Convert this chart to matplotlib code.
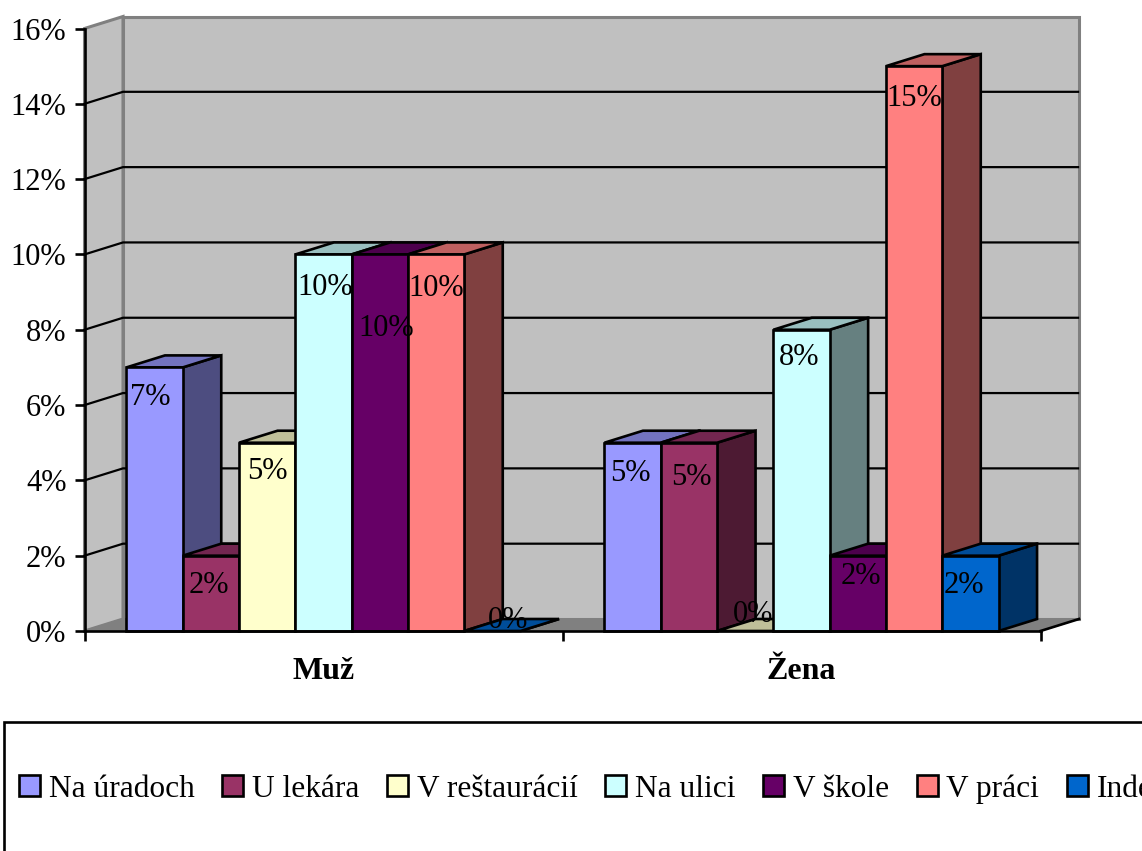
#!/usr/bin/env python3
import matplotlib
matplotlib.use('Agg')
import matplotlib.pyplot as plt
from matplotlib.patches import Polygon, Rectangle
from matplotlib.transforms import Affine2D

# data
groups = ['Muž', 'Žena']
series = ['Na úradoch', 'U lekára', 'V reštaurácií', 'Na ulici', 'V škole', 'V práci', 'Inde']
muz = [7, 2, 5, 10, 10, 10, 0]
zena = [5, 5, 0, 8, 2, 15, 2]
yticks = [0, 2, 4, 6, 8, 10, 12, 14, 16]

# colours of the faces
front = ['#9999FF', '#993366', '#FFFFCC', '#CCFFFF', '#660066', '#FF8080', '#0066CC']
top = ['#7373BF', '#732650', '#BFBF99', '#99BFBF', '#4D004D', '#BF6060', '#004D99']
side = ['#4D4D80', '#4D1A33', '#808066', '#668080', '#330033', '#804040', '#003366']

# hand placed data labels: px from bar centre, px below bar top
muz_nudge = [(-4, 30), (-2, 30), (0, 29), (2, 33), (6, 74), (0, 34), (16, -11)]
zena_nudge = [(-2, 31), (2, 35), (8, -16), (-2, 28), (3, 21), (0, 32), (-7, 30)]

W, H = 1142, 851
X0, X1, Y_TOP, Y_BOT = 84.5, 1040.5, 28.5, 631.0
LW = 1.9
GRID_LW = 1.6
FS = 22
LEG_FS = 22.6

plt.rcParams['font.family'] = ['Liberation Serif', 'DejaVu Serif']
plt.rcParams['font.size'] = FS

fig = plt.figure(figsize=(W / 100, H / 100), dpi=100)
ax = fig.add_axes([X0 / W, 1 - Y_BOT / H, (X1 - X0) / W, (Y_BOT - Y_TOP) / H])
ax.set_xlim(0, 2)
ax.set_ylim(0, 16)

px_x = 2 / (X1 - X0)
px_y = 16 / (Y_BOT - Y_TOP)
dx = 38.5 * px_x
dy = 12 * px_y
bar_w = 56.3 * px_x
n = len(series)
gap = (1 - n * bar_w) / 2


def face(pts, color, edge='black', lw=LW, z=2):
    ax.add_patch(Polygon(pts, closed=True, facecolor=color, edgecolor=edge, linewidth=lw,
                         joinstyle='miter', clip_on=False, zorder=z))


# walls and floor
face([(0, 0), (dx, dy), (dx, 16 + dy), (0, 16)], '#C0C0C0', '#808080', 2.2, 1)
face([(dx, dy), (2 + dx, dy), (2 + dx, 16 + dy), (dx, 16 + dy)], '#C0C0C0', '#808080', 2.2, 1)
face([(0, 0), (2, 0), (2 + dx, dy), (dx, dy)], '#808080', '#808080', 1.0, 1)
ax.plot([2, 2 + dx], [0, dy], color='black', lw=LW, clip_on=False, zorder=1.3)

# gridlines, on the left wall and on the back wall
for t in yticks[1:-1]:
    ax.plot([0, dx, 2 + dx - 0.002], [t, t + dy, t + dy], color='black', lw=GRID_LW, clip_on=False,
            zorder=1.2, solid_joinstyle='miter')

# bars, left to right so that each one covers the side of the one before
for g, values in enumerate([muz, zena]):
    for i, v in enumerate(values):
        x = g + gap + i * bar_w
        face([(x + bar_w, 0), (x + bar_w + dx, dy), (x + bar_w + dx, v + dy), (x + bar_w, v)], side[i])
        face([(x, v), (x + bar_w, v), (x + bar_w + dx, v + dy), (x + dx, v + dy)], top[i])
        if v > 0:
            face([(x, 0), (x + bar_w, 0), (x + bar_w, v), (x, v)], front[i])

# data labels
for g, (values, nudges) in enumerate([(muz, muz_nudge), (zena, zena_nudge)]):
    for i, v in enumerate(values):
        x = g + gap + (i + 0.5) * bar_w + nudges[i][0] * px_x
        ax.text(x, v - nudges[i][1] * px_y, '%d%%' % v, ha='center', va='center',
                color='black', zorder=6, clip_on=False)

# axes
for s in ['top', 'right']:
    ax.spines[s].set_visible(False)
for s in ['left', 'bottom']:
    ax.spines[s].set_linewidth(LW)
    ax.spines[s].set_zorder(5)
ax.patch.set_visible(False)
ax.set_yticks(yticks)
ax.set_yticklabels(['%d%%' % t for t in yticks])
ax.tick_params(axis='y', length=7.2, width=LW, pad=5.8)
ax.set_xticks([0, 1, 2])
ax.set_xticklabels([])
ax.tick_params(axis='x', which='major', length=7.2, width=LW)
ax.set_xticks([0.5, 1.5], minor=True)
ax.set_xticklabels(groups, minor=True, fontweight='bold', fontsize=23)
ax.tick_params(axis='x', which='minor', length=0, pad=19)

# legend box runs off the right side of the picture
to_fig = Affine2D().scale(1, -1).translate(0, H)
fig.add_artist(Rectangle((3.5, 722), W, 200, transform=to_fig, facecolor='white',
                         edgecolor='black', linewidth=LW, zorder=-1))
handles = [Rectangle((0, 0), 1, 1, facecolor=c, edgecolor='black', linewidth=LW) for c in front]
leg = ax.legend(handles, series, ncol=n, frameon=False, loc='center left',
                bbox_to_anchor=(19, 789), bbox_transform=to_fig, borderpad=0, borderaxespad=0,
                handlelength=0.67, handleheight=0.67, handletextpad=0.27, columnspacing=0.89,
                fontsize=LEG_FS)
leg.set_zorder(7)

plt.savefig('out.png', dpi=100)
